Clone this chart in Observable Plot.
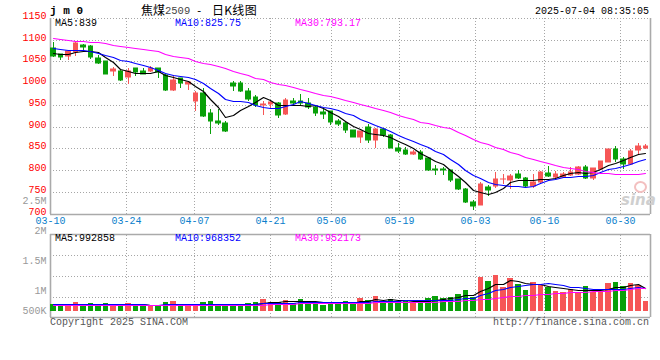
<!DOCTYPE html>
<html><head><meta charset="utf-8">
<script src="https://cdn.jsdelivr.net/npm/d3@7"></script>
<script src="https://cdn.jsdelivr.net/npm/@observablehq/plot@0.6"></script>
<style>
body{margin:0;background:#fff}
#wrap{position:relative;width:660px;height:360px;overflow:hidden;background:#fff}
#wrap svg{position:absolute;left:0}
.t{position:absolute;white-space:pre;font-family:"Liberation Mono",monospace;font-size:10px;line-height:12px}
</style></head><body><div id="wrap"></div>
<script>
// ---- data (焦煤2509 daily K, 03-10 .. 07-04) ----
const open  = [1080,1066,1063,1071,1089,1086,1057,1050,1027,1029, 1014,1034,1027,1027,1034,1019,985,1011,997,958,
               977,931,914,909,1000,1000,983,968,950,951, 955,928,960,960,954,944,933,935,912,908,
               892,876,899,869,894,880,851,846,838,842, 827,802,802,800,779,756,727,720,760,764,
               779,777,791,781,764,773,793,785,785,789, 791,808,782,802,819,848,825,813,846,851];
const high  = [1094,1068,1075,1094,1090,1088,1065,1051,1037,1031, 1035,1035,1034,1040,1036,1021,1019,1013,1006,983,
               988,940,941,912,1006,1006,988,972,958,962, 957,965,965,975,965,949,940,937,918,912,
               893,890,905,896,897,882,863,852,846,846, 828,811,808,801,780,758,730,773,766,796,
               790,792,800,785,790,798,809,798,796,808, 809,812,805,821,849,856,831,848,863,859];
const low   = [1060,1054,1054,1063,1075,1056,1045,1020,1016,1006, 998,1016,1020,1025,1012,983,981,990,985,937,
               922,883,903,887,982,979,958,945,926,941, 920,926,949,949,941,924,917,903,901,886,
               875,863,863,851,876,850,840,834,834,824, 798,789,789,773,754,724,707,719,741,758,
               769,756,779,762,758,771,785,777,781,786, 789,779,777,800,818,819,802,812,834,848];
const close = [1062,1060,1073,1092,1084,1060,1046,1021,1033,1008, 1029,1025,1021,1035,1025,985,1008,1000,1002,977,
               924,914,909,889,993,983,964,949,951,956, 926,962,954,955,944,931,928,911,905,892,
               876,889,869,894,880,851,843,837,842,825, 800,799,799,777,756,726,718,768,754,779,
               780,786,782,764,773,796,787,791,791,796, 808,782,804,821,848,826,815,843,855,856];
const volume = [720000,698000,698000,753000,698000,731000,698000,731000,720000,720000,
                736000,698000,698000,698000,681000,753000,770000,714000,698000,698000,
                753000,770000,714000,698000,698000,698000,736000,753000,803000,753000,
                753000,787000,731000,803000,776000,731000,698000,731000,753000,770000,
                753000,820000,787000,853000,753000,803000,770000,770000,753000,753000,
                820000,853000,820000,837000,887000,953000,837000,1170000,1103000,1203000,
                998000,1153000,1048000,953000,1087000,1031000,998000,937000,920000,964000,
                926000,1020000,920000,920000,1070000,1087000,1020000,1070000,1031000,770000];
// moving-average values before enough days exist
const ma5Lead  = [1069,1066,1068,1072];
const ma10Lead = [1080,1079,1077,1077,1076,1074,1069,1065,1060];
const ma30Lead = [1103,1102,1099,1098,1097,1095,1094,1092,1089,1086,1083,1080,1078,1076,1073,
                  1068,1063,1060,1057,1050,1047,1043,1039,1034,1029,1024,1018,1013,1010];
const vma5Lead  = [714000,714000,714000,714000];
const vma10Lead = [720000,720000,720000,720000,720000,720000,720000,720000,720000];
const vma30Lead = [700000,700000,700000,700000,700000,700000,700000,700000,700000,700000,
                   700000,700000,700000,700000,700000,700000,700000,700000,700000,700000,
                   700000,700000,700000,700000,700000,700000,700000,700000,700000];
const tickIdx   = [0,10,19,29,37,46,56,65,75];
const tickLabel = ["03-10","03-24","04-07","04-21","05-06","05-19","06-03","06-16","06-30"];
const priceTicks = [700,750,800,850,900,950,1000,1050,1100,1150];
const volTicks   = [2500000,2000000,1500000,1000000];
const volTickLabel = ["2.5M","2M","1.5M","1M"];
const volLowTick = 500000, volLowLabel = "500K";
const legendPrice = ["MA5:839","MA10:825.75","MA30:793.17"];
const legendVol   = ["MA5:992858","MA10:968352","MA30:952173"];

// ---- styling ----
const RED = "#f65656", GREEN = "#09a009", GRID = "#a6a6a6", AXIS = "#aaaaaa";
const MA_COL = ["#000000", "#0000ff", "#ff00ff"];
const FONT = "Liberation Mono, monospace";
const N = close.length;
const BODY = 0.76, MID = 0.38;
const volBase = 608000;

function movingAvg(src, n, lead) {
  return src.map((_, i) => i < n - 1 ? lead[i] : d3.mean(src.slice(i - n + 1, i + 1)));
}
const candles = d3.range(N).map(i => ({i, o: open[i], h: high[i], l: low[i], c: close[i],
  col: close[i] >= open[i] ? RED : GREEN, v: volume[i]}));
const pMA = [movingAvg(close, 5, ma5Lead), movingAvg(close, 10, ma10Lead), movingAvg(close, 30, ma30Lead)];
const vMA = [movingAvg(volume, 5, vma5Lead), movingAvg(volume, 10, vma10Lead), movingAvg(volume, 30, vma30Lead)];
const tickX = t => t * N / (N - 1);
const maLines = (arrs) => arrs.map((arr, k) =>
  Plot.line(arr.map((v, i) => ({t: i + MID, v})), {x: "t", y: "v", stroke: MA_COL[k], strokeWidth: 1.2}));

const price = Plot.plot({
  width: 660, height: 230,
  marginLeft: 50, marginRight: 10, marginTop: 18, marginBottom: 16.5,
  x: {type: "linear", domain: [0, N], axis: null, round: true},
  y: {type: "linear", domain: [700, 1150], axis: null, round: true},
  color: {type: "identity"},
  style: {background: "transparent", overflow: "visible"},
  marks: [
    Plot.ruleY(priceTicks.slice(1), {y: d => d, stroke: GRID, strokeDasharray: "1,2"}),
    Plot.ruleX(tickIdx.slice(1), {x: tickX, y1: 700, y2: 1150, stroke: GRID, strokeDasharray: "1,2"}),
    Plot.ruleX([0, N], {x: d => d, y1: 700, y2: 1150, stroke: AXIS, strokeWidth: 1.6}),
    Plot.ruleY([700], {y: d => d, stroke: AXIS, strokeWidth: 1.6}),
    Plot.ruleX(candles, {x: d => d.i + MID, y1: "l", y2: "h", stroke: "col", strokeWidth: 1}),
    Plot.rect(candles, {x1: d => d.i, x2: d => d.i + BODY, y1: d => Math.min(d.o, d.c), y2: d => Math.max(d.o, d.c),
      fill: "col", insetTop: -0.5, insetBottom: -0.5}),
    ...maLines(pMA),
    Plot.text(priceTicks, {y: d => d, text: d => String(d), frameAnchor: "left", dx: -4, dy: -3,
      textAnchor: "end", fill: "#ff0000", fontFamily: FONT, fontSize: 10}),
    Plot.text(tickIdx, {x: tickX, text: (t, j) => tickLabel[j], frameAnchor: "bottom", dy: 9.5,
      fill: "#0a80cc", fontFamily: FONT, fontSize: 10})
  ]
});

const VLO = 500000, VHI = 1881700;
const vol = Plot.plot({
  width: 660, height: 170,
  marginLeft: 50, marginRight: 10, marginTop: 44.3, marginBottom: 42.7,
  x: {type: "linear", domain: [0, N], axis: null, round: true},
  y: {type: "linear", domain: [VLO, VHI], axis: null, round: true},
  color: {type: "identity"},
  style: {background: "transparent", overflow: "visible"},
  marks: [
    Plot.ruleY([1, 2, 3], {y: k => VLO + k * (VHI - VLO) / 4, stroke: GRID, strokeDasharray: "1,2"}),
    Plot.ruleX(tickIdx.slice(1), {x: tickX, y1: VLO, y2: VHI, stroke: GRID, strokeDasharray: "1,2"}),
    Plot.ruleX([0, N], {x: d => d, y1: VLO, y2: VHI, stroke: AXIS, strokeWidth: 1.6}),
    Plot.ruleY([VLO, VHI], {y: d => d, stroke: AXIS, strokeWidth: 1.6}),
    Plot.rect(candles, {x1: d => d.i, x2: d => d.i + BODY, y1: volBase, y2: "v", fill: "col"}),
    ...maLines(vMA),
    Plot.text(volTicks, {y: d => d, text: (d, j) => volTickLabel[j], frameAnchor: "left", dx: -4, dy: 3.5,
      textAnchor: "end", fill: "#999999", fontFamily: FONT, fontSize: 10}),
    Plot.text([volLowTick], {y: d => d, text: () => volLowLabel, frameAnchor: "left", dx: -4, dy: -7.2,
      textAnchor: "end", fill: "#999999", fontFamily: FONT, fontSize: 10})
  ]
});

const wrap = document.getElementById("wrap");
price.style.top = "0px";
vol.style.top = "190px";
wrap.appendChild(vol);
wrap.appendChild(price);

function addText(txt, left, top, css) {
  const d = document.createElement("div");
  d.className = "t";
  d.textContent = txt;
  d.style.left = left + "px";
  d.style.top = top + "px";
  Object.assign(d.style, css || {});
  wrap.appendChild(d);
  return d;
}
addText("j m 0", 50, 5, {fontWeight: "bold", fontSize: "11px"});
const CJK = {fontFamily: "'Noto Sans CJK SC', sans-serif", fontSize: "12px", lineHeight: "14px"};
addText("焦煤", 141, 3, CJK);
addText("2509", 165, 5, {fontSize: "10.5px", color: "#444"});
addText("-", 196, 5, {fontSize: "10.5px"});
addText("日K线图", 212, 3, Object.assign({letterSpacing: "0.3px"}, CJK));
addText("2025-07-04 08:35:05", 535, 6);
legendPrice.forEach((s, k) => addText(s, 55 + 120 * k, 18, {color: MA_COL[k]}));
legendVol.forEach((s, k) => addText(s, 55 + 120 * k, 233, {color: MA_COL[k]}));
addText("Copyright 2025 SINA.COM", 50, 317, {color: "#555"});
addText("http://finance.sina.com.cn", 649 - 156, 317, {color: "#555"});
addText("sina", 621, 192, {fontFamily: "DejaVu Sans, sans-serif", fontStyle: "italic", fontWeight: "bold", fontSize: "15px", color: "#cfcfcf", lineHeight: "16px"});
const eye = document.createElement("div");
Object.assign(eye.style, {position: "absolute", left: "634px", top: "181px", width: "9px", height: "8px",
  border: "2px solid #f3c0c0", borderRadius: "50%"});
wrap.appendChild(eye);
</script></body></html>
